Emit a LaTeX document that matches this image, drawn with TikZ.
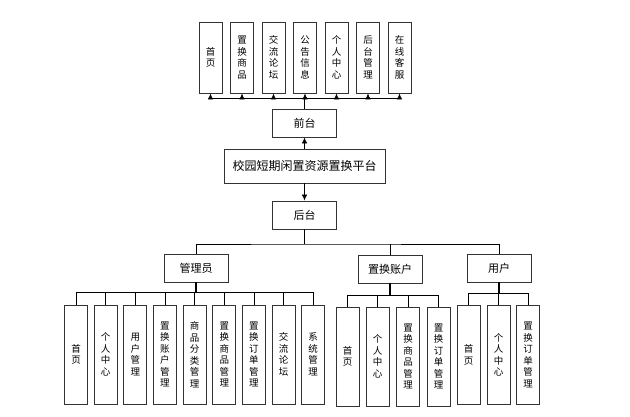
\documentclass[tikz,border=0pt]{standalone}
\usepackage{fontspec}
\setmainfont{Noto Sans CJK SC}
\usetikzlibrary{arrows.meta}

\tikzset{
  box/.style={draw=black!80, line width=0.9pt, minimum width=64pt, minimum height=28pt,
    inner sep=0pt, font=\fontsize{11}{13}\selectfont},
  vbox/.style={draw=black!80, line width=0.9pt, minimum width=23pt, minimum height=99pt,
    inner sep=0pt, align=center, font=\fontsize{9.5}{11.5}\selectfont},
  link/.style={line width=0.7pt},
  arr/.style={line width=0.7pt, -{Latex[length=6pt,width=5.5pt]}},
}

\begin{document}
\begin{tikzpicture}[x=1pt,y=-1pt]
\useasboundingbox (0,0) rectangle (630,416);
% middle column
\node[box, minimum width=161pt, minimum height=34pt, font=\fontsize{12}{14}\selectfont] (pt) at (304.5,166) {校园短期闲置资源置换平台};
\node[box] (qt) at (304.5,123) {前台};
\node[box] (ht) at (304.5,215) {后台};
\draw[arr] (pt) -- (qt);
\draw[arr] (pt) -- (ht);

% front end pages
\coordinate (qbus) at (304.5,98);
\foreach \i/\t in {1/{首\\页},2/{置\\换\\商\\品},3/{交\\流\\论\\坛},4/{公\\告\\信\\息},
                   5/{个\\人\\中\\心},6/{后\\台\\管\\理},7/{在\\线\\客\\服}}
    {\node[vbox, minimum height=71pt] (f\i) at ({210.5+31.5*(\i-1)},57.5) {\t};
    \draw[arr] (f\i.south |- qbus) -- (f\i.south);}
\draw[link] (f1.south |- qbus) -- (f7.south |- qbus);
\draw[link, line width=1.2pt] (qt) -- (qbus);

% roles
\node[box] (gly) at (196,268) {管理员};
\node[box] (zh) at (390,269) {置换账户};
\node[box] (yh) at (499,268) {用户};
\coordinate (hbus) at (304.5,244);
\draw[link, line width=1.2pt] (ht) -- (hbus);
\draw[link] (gly) |- (hbus) -| (yh);
\draw[link] (zh) -- (zh |- hbus);

% administrator
\coordinate (gbus) at (196,292);
\foreach \i/\t in {1/{首\\页},2/{个\\人\\中\\心},3/{用\\户\\管\\理},4/{置\\换\\账\\户\\管\\理},
                   5/{商\\品\\分\\类\\管\\理},6/{置\\换\\商\\品\\管\\理},7/{置\\换\\订\\单\\管\\理},
                   8/{交\\流\\论\\坛},9/{系\\统\\管\\理}}
    {\node[vbox] (g\i) at ({76+29.65*(\i-1)},354.5) {\t};
    \draw[link] (g\i.north |- gbus) -- (g\i);}
\draw[link] (g1.north |- gbus) -- (g9.north |- gbus);
\draw[link, line width=1.2pt] (gly) -- (gbus);

% exchange account
\coordinate (zbus) at (390,295);
\foreach \i/\x/\t in {1/347.5/{首\\页},2/377.5/{个\\人\\中\\心},
                      3/408/{置\\换\\商\\品\\管\\理},4/438.5/{置\\换\\订\\单\\管\\理}}
    {\node[vbox] (z\i) at (\x,356.5) {\t};
    \draw[link] (z\i.north |- zbus) -- (z\i);}
\draw[link] (z1.north |- zbus) -- (z4.north |- zbus);
\draw[link, line width=1.2pt] (zh) -- (zbus);

% user
\coordinate (ybus) at (499,293);
\foreach \i/\x/\t in {1/468.5/{首\\页},2/498.5/{个\\人\\中\\心},3/528/{置\\换\\订\\单\\管\\理}}
    {\node[vbox] (y\i) at (\x,355) {\t};
    \draw[link] (y\i.north |- ybus) -- (y\i);}
\draw[link] (y1.north |- ybus) -- (y3.north |- ybus);
\draw[link, line width=1.2pt] (yh) -- (ybus);
\end{tikzpicture}
\end{document}
